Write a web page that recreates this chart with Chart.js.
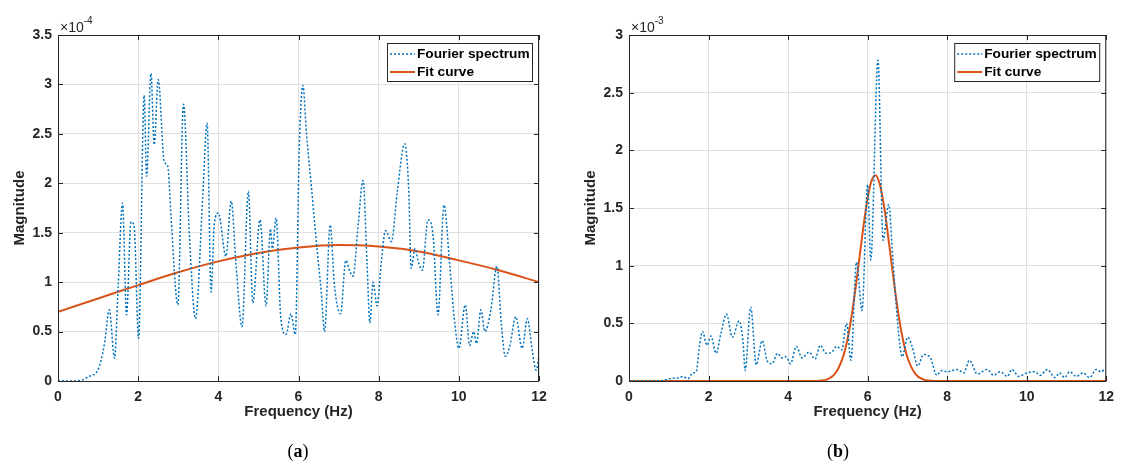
<!DOCTYPE html>
<html>
<head>
<meta charset="utf-8">
<script src="https://cdn.jsdelivr.net/npm/chart.js@4.4.1/dist/chart.umd.min.js"></script>
<style>
  html, body { margin: 0; padding: 0; background: #fff; }
  #wrap { position: relative; width: 1122px; height: 463px; overflow: hidden; }
  .panel { position: absolute; top: 0; width: 561px; height: 463px; }
</style>
</head>
<body>
<div id="wrap">
  <div class="panel" style="left:0"><canvas id="chartA" width="561" height="463"></canvas></div>
  <div class="panel" style="left:561px"><canvas id="chartB" width="561" height="463"></canvas></div>
</div>
<script>
// (a) Fourier spectrum, magnitude in units of 1e-4
const specAFreq = [0, 0.3, 0.6, 0.7, 0.85, 0.95, 1.07, 1.16, 1.28, 1.41, 1.5, 1.61, 1.71, 1.82, 1.9, 2.01,
  2.15, 2.21, 2.32, 2.4, 2.5, 2.65, 2.74, 2.82, 2.99, 3.13, 3.28, 3.43, 3.61, 3.72, 3.82, 3.9, 4.0,
  4.19, 4.32, 4.44, 4.59, 4.75, 4.86, 5.04, 5.19, 5.3, 5.35, 5.44, 5.56, 5.69, 5.81, 5.92, 6.02,
  6.11, 6.2, 6.32, 6.45, 6.57, 6.65, 6.79, 6.9, 7.05, 7.18, 7.28, 7.36, 7.49, 7.61, 7.71, 7.78,
  7.86, 7.96, 8.07, 8.17, 8.32, 8.46, 8.65, 8.75, 8.81, 8.91, 8.98, 9.09, 9.23, 9.36, 9.48, 9.63,
  9.77, 9.9, 10.0, 10.16, 10.27, 10.37, 10.44, 10.55, 10.65, 10.8, 10.95, 11.06, 11.16, 11.27,
  11.42, 11.58, 11.71, 11.83, 11.93, 12.0];
const specAMag = [0, 0, 0.01, 0.03, 0.06, 0.08, 0.2, 0.38, 0.72, 0.23, 0.95, 1.8, 0.67, 1.61, 1.56, 0.43,
  2.89, 2.07, 3.11, 2.39, 3.05, 2.22, 2.17, 1.66, 0.77, 2.8, 1.46, 0.63, 1.86, 2.61, 0.9, 1.59, 1.7,
  1.26, 1.82, 1.19, 0.55, 1.92, 0.79, 1.63, 0.76, 1.54, 1.34, 1.65, 0.63, 0.47, 0.68, 0.47, 2.37,
  2.99, 2.5, 1.97, 1.39, 0.89, 0.5, 1.58, 0.95, 0.68, 1.22, 1.11, 1.06, 1.59, 2.03, 1.19, 0.59,
  1.0, 0.76, 1.22, 1.52, 1.41, 1.9, 2.4, 1.93, 1.14, 1.34, 1.22, 1.12, 1.63, 1.46, 0.67, 1.78,
  1.19, 0.58, 0.33, 0.77, 0.36, 0.5, 0.38, 0.72, 0.5, 0.72, 1.16, 0.58, 0.25, 0.35,
  0.65, 0.33, 0.63, 0.31, 0.11, 0.25];
const fitAFreq = [0, 1, 2, 3, 4, 5, 6, 7, 8, 9, 10, 11, 12];
const fitAMag = [0.7, 0.835, 0.97, 1.1, 1.21, 1.295, 1.35, 1.375, 1.36, 1.31, 1.22, 1.12, 1.0];

// (b) Fourier spectrum, magnitude in units of 1e-3
const specBFreq = [0, 0.5, 0.86, 1.02, 1.27, 1.36, 1.48, 1.6, 1.69, 1.77, 1.85, 1.96, 2.06, 2.19, 2.31,
  2.45, 2.6, 2.77, 2.87, 2.92, 3.06, 3.2, 3.35, 3.48, 3.6, 3.73, 3.85, 3.95, 4.06, 4.21, 4.35, 4.53,
  4.68, 4.81, 4.95, 5.1, 5.22, 5.35, 5.47, 5.58, 5.72, 5.86, 6.0, 6.08, 6.26, 6.39, 6.53, 6.63,
  6.71, 6.81, 6.87, 7.01, 7.12, 7.26, 7.41, 7.58, 7.74, 7.86, 8.0, 8.25, 8.42, 8.56, 8.76, 9.0,
  9.17, 9.34, 9.51, 9.63, 9.8, 10.0, 10.21, 10.34, 10.52, 10.71, 10.83, 10.95, 11.08, 11.25,
  11.42, 11.58, 11.75, 11.87, 11.98];
const specBMag = [0, 0, 0.005, 0.02, 0.03, 0.04, 0.02, 0.07, 0.08, 0.3, 0.43, 0.31, 0.39, 0.24, 0.41,
  0.58, 0.38, 0.52, 0.33, 0.09, 0.64, 0.14, 0.35, 0.17, 0.15, 0.24, 0.2, 0.21, 0.15, 0.3, 0.2, 0.25,
  0.19, 0.31, 0.24, 0.25, 0.3, 0.27, 0.5, 0.18, 1.03, 0.61, 1.7, 1.05, 2.78, 1.22, 1.53, 1.08,
  0.7, 0.31, 0.21, 0.38, 0.3, 0.13, 0.23, 0.2, 0.05, 0.09, 0.08, 0.1, 0.07, 0.18, 0.06, 0.1,
  0.05, 0.08, 0.04, 0.1, 0.04, 0.07, 0.08, 0.05, 0.1, 0.03, 0.07, 0.03, 0.08, 0.04,
  0.07, 0.03, 0.1, 0.08, 0.11];
const fitBFreq = [0, 4.5, 4.8, 5.0, 5.2, 5.4, 5.5, 5.6, 5.7, 5.8, 5.9, 6.0, 6.1, 6.2, 6.3, 6.4, 6.5,
  6.6, 6.7, 6.8, 6.9, 7.0, 7.2, 7.4, 7.6, 7.8, 12];
const fitBMag = [0, 0, 0.003, 0.017, 0.071, 0.229, 0.373, 0.568, 0.811, 1.083, 1.354, 1.585, 1.738,
  1.785, 1.715, 1.544, 1.302, 1.027, 0.759, 0.526, 0.34, 0.206, 0.062, 0.014, 0.003, 0, 0];

const xTicks = [0, 2, 4, 6, 8, 10, 12];
const seriesNames = ["Fourier spectrum", "Fit curve"];

const FONT = "'Liberation Sans', Arial, sans-serif";
const SERIF = "'Liberation Serif', 'DejaVu Serif', serif";
const BLUE = "#0072BD";
const ORANGE = "#D95319";
const AXIS = "#262626";

function pts(xs, ys) {
  return xs.map((x, i) => ({ x: x, y: ys[i] }));
}

// frame, inward ticks, exponent, legend and caption
const matlabLook = {
  id: "matlabLook",
  afterDraw(chart, args, opts) {
    const { ctx, chartArea: a, scales } = chart;
    const xs = scales.x, ys = scales.y;
    ctx.save();
    ctx.strokeStyle = AXIS;
    ctx.lineWidth = 1;
    ctx.strokeRect(a.left + 0.5, a.top + 0.5, a.right - a.left - 1, a.bottom - a.top);
    ctx.beginPath();
    xTicks.forEach(v => {
      const px = Math.round(xs.getPixelForValue(v)) + 0.5;
      ctx.moveTo(px, a.bottom); ctx.lineTo(px, a.bottom - 5);
      ctx.moveTo(px, a.top); ctx.lineTo(px, a.top + 5);
    });
    ys.ticks.forEach(t => {
      const py = Math.round(ys.getPixelForValue(t.value)) + 0.5;
      ctx.moveTo(a.left, py); ctx.lineTo(a.left + 5, py);
      ctx.moveTo(a.right, py); ctx.lineTo(a.right - 5, py);
    });
    ctx.stroke();

    // exponent label
    ctx.fillStyle = AXIS;
    ctx.textBaseline = "alphabetic";
    ctx.textAlign = "left";
    ctx.font = "14px " + FONT;
    ctx.fillText("\u00d710", a.left + 2, a.top - 3);
    const w = ctx.measureText("\u00d710").width;
    ctx.font = "10px " + FONT;
    ctx.fillText(opts.exponent, a.left + 2 + w, a.top - 11);

    // legend
    const lw = 145, lh = 38;
    const lx = a.right - 7 - lw, ly = a.top + 8;
    ctx.fillStyle = "#fff";
    ctx.fillRect(lx, ly, lw, lh);
    ctx.strokeStyle = AXIS;
    ctx.strokeRect(lx + 0.5, ly + 0.5, lw, lh);
    const rows = [ly + 11, ly + 29];
    ctx.lineWidth = 1.5;
    ctx.strokeStyle = BLUE;
    ctx.setLineDash([2, 2]);
    ctx.beginPath(); ctx.moveTo(lx + 3, rows[0]); ctx.lineTo(lx + 28, rows[0]); ctx.stroke();
    ctx.setLineDash([]);
    ctx.lineWidth = 2;
    ctx.strokeStyle = ORANGE;
    ctx.beginPath(); ctx.moveTo(lx + 3, rows[1]); ctx.lineTo(lx + 28, rows[1]); ctx.stroke();
    ctx.fillStyle = "#000";
    ctx.font = "bold 13.7px " + FONT;
    ctx.textBaseline = "middle";
    ctx.fillText(seriesNames[0], lx + 30, rows[0]);
    ctx.fillText(seriesNames[1], lx + 30, rows[1]);

    // caption
    ctx.fillStyle = "#000";
    const cx = opts.captionX;
    const cy = 452;
    ctx.font = "18px " + SERIF;
    const wp = ctx.measureText("(").width;
    ctx.font = "bold 18px " + SERIF;
    const wl = ctx.measureText(opts.caption).width;
    const start = cx - (wp * 2 + wl) / 2;
    ctx.font = "18px " + SERIF;
    ctx.fillText("(", start, cy);
    ctx.fillText(")", start + wp + wl, cy);
    ctx.font = "bold 18px " + SERIF;
    ctx.fillText(opts.caption, start + wp, cy);
    ctx.restore();
  }
};

function makeChart(id, spec, fit, yMax, axisWidth, rightPad, exponent, caption, captionX) {
  const ctx = document.getElementById(id).getContext("2d");
  return new Chart(ctx, {
    type: "line",
    data: {
      datasets: [
        {
          label: seriesNames[0],
          data: spec,
          borderColor: BLUE,
          borderWidth: 1.5,
          borderDash: [2, 2],
          pointRadius: 0,
          cubicInterpolationMode: "monotone",
          fill: false
        },
        {
          label: seriesNames[1],
          data: fit,
          borderColor: ORANGE,
          borderWidth: 2,
          pointRadius: 0,
          cubicInterpolationMode: "monotone",
          fill: false
        }
      ]
    },
    options: {
      responsive: false,
      animation: false,
      layout: { padding: { top: 35, right: rightPad, left: 0, bottom: 0 } },
      plugins: {
        legend: { display: false },
        tooltip: { enabled: false },
        matlabLook: { exponent: exponent, caption: caption, captionX: captionX }
      },
      scales: {
        x: {
          type: "linear",
          min: 0,
          max: 12,
          afterBuildTicks: s => { s.ticks = xTicks.map(v => ({ value: v })); },
          afterFit: s => { s.height = 82; },
          border: { display: false },
          grid: { color: "#e0e0e0", drawTicks: false },
          ticks: { color: AXIS, padding: 8, font: { family: FONT, size: 14, weight: "bold" } },
          title: {
            display: true,
            text: "Frequency (Hz)",
            color: AXIS,
            padding: { top: 0, bottom: 42 },
            font: { family: FONT, size: 15, weight: "bold" }
          }
        },
        y: {
          min: 0,
          max: yMax,
          afterFit: s => { s.width = axisWidth; },
          border: { display: false },
          grid: { color: "#e0e0e0", drawTicks: false },
          ticks: {
            stepSize: 0.5,
            color: AXIS,
            padding: 6,
            font: { family: FONT, size: 14, weight: "bold" },
            callback: v => String(Math.round(v * 10) / 10)
          },
          title: {
            display: true,
            text: "Magnitude",
            color: AXIS,
            padding: { top: axisWidth - 47, bottom: 0 },
            font: { family: FONT, size: 15, weight: "bold" }
          }
        }
      }
    },
    plugins: [matlabLook]
  });
}

makeChart("chartA", pts(specAFreq, specAMag), pts(fitAFreq, fitAMag), 3.5, 58, 22, "-4", "a", 298);
makeChart("chartB", pts(specBFreq, specBMag), pts(fitBFreq, fitBMag), 3, 68, 12, "-3", "b", 277);
</script>
</body>
</html>
